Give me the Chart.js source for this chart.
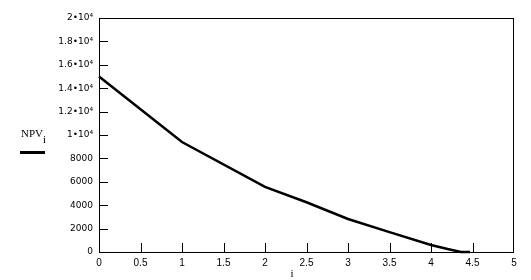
<!DOCTYPE html>
<html>
<head>
<meta charset="UTF-8">
<script src="https://cdn.jsdelivr.net/npm/chart.js"></script>
<style>
  body { margin: 0; background: #fff; }
  #wrap { width: 531px; height: 280px; position: relative; }
</style>
</head>
<body>
<div id="wrap"><canvas id="npvChart"></canvas></div>
<script>
// rate index i and net present value
const iVals = [0, 1, 2, 2.5, 3, 3.5, 4, 4.2, 4.36, 4.47];
const npvVals = [15000, 9400, 5560, 4250, 2820, 1700, 600, 250, 0, 0];

const legendLabel = 'NPV';
const legendSub = 'i';
const xTitle = 'i';

const fmtY = (v) => {
  if (v >= 10000) return (v / 10000) + '\u202210\u2074';
  return String(v);
};

// inward ticks, the box frame and the Mathcad-style legend
const frame = {
  id: 'frame',
  afterDraw(chart) {
    const { ctx, chartArea: a, scales } = chart;
    ctx.save();
    ctx.strokeStyle = '#000';
    ctx.lineWidth = 1;
    ctx.strokeRect(a.left + 0.5, a.top + 0.5, a.right - a.left - 1, a.bottom - a.top);

    ctx.beginPath();
    scales.x.ticks.forEach(t => {
      if (t.value <= 0 || t.value >= 5) return;
      const x = Math.round(scales.x.getPixelForValue(t.value)) + 0.5;
      ctx.moveTo(x, a.bottom);
      ctx.lineTo(x, a.bottom - 9);
    });
    scales.y.ticks.forEach(t => {
      if (t.value <= 0 || t.value >= 20000) return;
      const y = Math.round(scales.y.getPixelForValue(t.value)) + 0.5;
      ctx.moveTo(a.left, y);
      ctx.lineTo(a.left + 9, y);
    });
    ctx.stroke();

    // legend
    ctx.fillStyle = '#000';
    ctx.font = '11px "Liberation Serif"';
    ctx.textBaseline = 'alphabetic';
    ctx.fillText(legendLabel, 21, 137);
    ctx.fillText(legendSub, 43, 143);
    ctx.fillRect(20, 151, 25, 3);

    // x axis title
    ctx.textAlign = 'center';
    ctx.fillText(xTitle, 292, 277);
    ctx.restore();
  }
};

const ctx = document.getElementById('npvChart').getContext('2d');

new Chart(ctx, {
  type: 'line',
  data: {
    datasets: [{
      data: iVals.map((x, k) => ({ x: x, y: npvVals[k] })),
      borderColor: '#000',
      borderWidth: 2.5,
      pointRadius: 0,
      tension: 0,
      clip: false
    }]
  },
  options: {
    responsive: true,
    maintainAspectRatio: false,
    animation: false,
    layout: { padding: { left: 0, top: 18, right: 17, bottom: 0 } },
    plugins: { legend: { display: false }, tooltip: { enabled: false } },
    scales: {
      x: {
        type: 'linear',
        min: 0,
        max: 5,
        grid: { display: false, drawTicks: false },
        border: { display: false },
        ticks: {
          stepSize: 0.5,
          color: '#000',
          padding: 5,
          maxRotation: 0,
          font: { family: 'Liberation Sans', size: 10 },
          callback: (v) => String(v)
        },
        afterFit: (s) => { s.height = 28; }
      },
      y: {
        min: 0,
        max: 20000,
        grid: { display: false, drawTicks: false },
        border: { display: false },
        ticks: {
          stepSize: 2000,
          color: '#000',
          padding: 6,
          font: { family: 'DejaVu Sans', size: 9 },
          callback: fmtY
        },
        afterFit: (s) => { s.width = 99; }
      }
    }
  },
  plugins: [frame]
});
</script>
</body>
</html>
